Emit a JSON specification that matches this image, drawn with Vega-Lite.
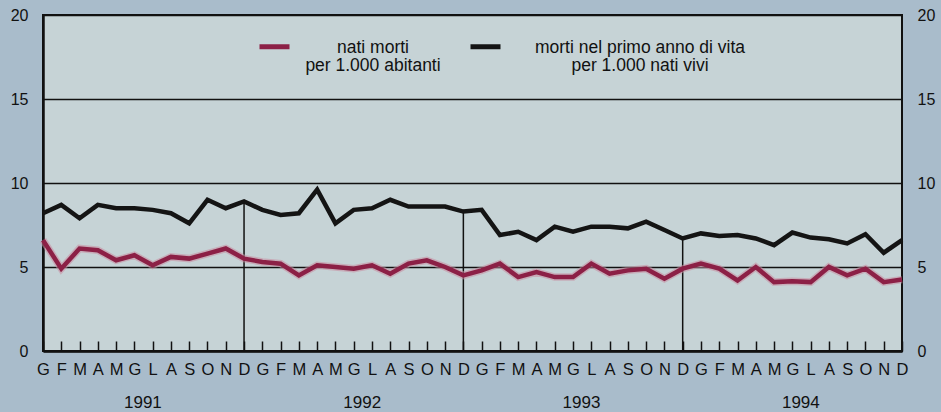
{
  "$schema": "https://vega.github.io/schema/vega-lite/v6.json",
  "width": 859,
  "height": 336,
  "autosize": {"type": "none"},
  "padding": {"left": 43, "top": 15, "right": 39, "bottom": 61},
  "background": "#a9bccb",
  "config": {
    "font": "Liberation Sans",
    "view": {"fill": "#c6d3d6", "stroke": "#111111", "strokeWidth": 2}
  },
  "data": {
    "values": [
      {"periodo": "1991-01", "anno": 1991, "morti_primo_anno": 8.2, "nati_morti": 6.6},
      {"periodo": "1991-02", "anno": 1991, "morti_primo_anno": 8.7, "nati_morti": 4.9},
      {"periodo": "1991-03", "anno": 1991, "morti_primo_anno": 7.9, "nati_morti": 6.1},
      {"periodo": "1991-04", "anno": 1991, "morti_primo_anno": 8.7, "nati_morti": 6.0},
      {"periodo": "1991-05", "anno": 1991, "morti_primo_anno": 8.5, "nati_morti": 5.4},
      {"periodo": "1991-06", "anno": 1991, "morti_primo_anno": 8.5, "nati_morti": 5.7},
      {"periodo": "1991-07", "anno": 1991, "morti_primo_anno": 8.4, "nati_morti": 5.1},
      {"periodo": "1991-08", "anno": 1991, "morti_primo_anno": 8.2, "nati_morti": 5.6},
      {"periodo": "1991-09", "anno": 1991, "morti_primo_anno": 7.6, "nati_morti": 5.5},
      {"periodo": "1991-10", "anno": 1991, "morti_primo_anno": 9.0, "nati_morti": 5.8},
      {"periodo": "1991-11", "anno": 1991, "morti_primo_anno": 8.5, "nati_morti": 6.1},
      {"periodo": "1991-12", "anno": 1991, "morti_primo_anno": 8.9, "nati_morti": 5.5},
      {"periodo": "1992-01", "anno": 1992, "morti_primo_anno": 8.4, "nati_morti": 5.3},
      {"periodo": "1992-02", "anno": 1992, "morti_primo_anno": 8.1, "nati_morti": 5.2},
      {"periodo": "1992-03", "anno": 1992, "morti_primo_anno": 8.2, "nati_morti": 4.5},
      {"periodo": "1992-04", "anno": 1992, "morti_primo_anno": 9.6, "nati_morti": 5.1},
      {"periodo": "1992-05", "anno": 1992, "morti_primo_anno": 7.6, "nati_morti": 5.0},
      {"periodo": "1992-06", "anno": 1992, "morti_primo_anno": 8.4, "nati_morti": 4.9},
      {"periodo": "1992-07", "anno": 1992, "morti_primo_anno": 8.5, "nati_morti": 5.1},
      {"periodo": "1992-08", "anno": 1992, "morti_primo_anno": 9.0, "nati_morti": 4.6},
      {"periodo": "1992-09", "anno": 1992, "morti_primo_anno": 8.6, "nati_morti": 5.2},
      {"periodo": "1992-10", "anno": 1992, "morti_primo_anno": 8.6, "nati_morti": 5.4},
      {"periodo": "1992-11", "anno": 1992, "morti_primo_anno": 8.6, "nati_morti": 5.0},
      {"periodo": "1992-12", "anno": 1992, "morti_primo_anno": 8.3, "nati_morti": 4.5},
      {"periodo": "1993-01", "anno": 1993, "morti_primo_anno": 8.4, "nati_morti": 4.8},
      {"periodo": "1993-02", "anno": 1993, "morti_primo_anno": 6.9, "nati_morti": 5.2},
      {"periodo": "1993-03", "anno": 1993, "morti_primo_anno": 7.1, "nati_morti": 4.4},
      {"periodo": "1993-04", "anno": 1993, "morti_primo_anno": 6.6, "nati_morti": 4.7},
      {"periodo": "1993-05", "anno": 1993, "morti_primo_anno": 7.4, "nati_morti": 4.4},
      {"periodo": "1993-06", "anno": 1993, "morti_primo_anno": 7.1, "nati_morti": 4.4},
      {"periodo": "1993-07", "anno": 1993, "morti_primo_anno": 7.4, "nati_morti": 5.2},
      {"periodo": "1993-08", "anno": 1993, "morti_primo_anno": 7.4, "nati_morti": 4.6},
      {"periodo": "1993-09", "anno": 1993, "morti_primo_anno": 7.3, "nati_morti": 4.8},
      {"periodo": "1993-10", "anno": 1993, "morti_primo_anno": 7.7, "nati_morti": 4.9},
      {"periodo": "1993-11", "anno": 1993, "morti_primo_anno": 7.2, "nati_morti": 4.3},
      {"periodo": "1993-12", "anno": 1993, "morti_primo_anno": 6.7, "nati_morti": 4.9},
      {"periodo": "1994-01", "anno": 1994, "morti_primo_anno": 7.0, "nati_morti": 5.2},
      {"periodo": "1994-02", "anno": 1994, "morti_primo_anno": 6.85, "nati_morti": 4.9},
      {"periodo": "1994-03", "anno": 1994, "morti_primo_anno": 6.9, "nati_morti": 4.2},
      {"periodo": "1994-04", "anno": 1994, "morti_primo_anno": 6.7, "nati_morti": 5.0},
      {"periodo": "1994-05", "anno": 1994, "morti_primo_anno": 6.3, "nati_morti": 4.1},
      {"periodo": "1994-06", "anno": 1994, "morti_primo_anno": 7.05, "nati_morti": 4.15},
      {"periodo": "1994-07", "anno": 1994, "morti_primo_anno": 6.75, "nati_morti": 4.1},
      {"periodo": "1994-08", "anno": 1994, "morti_primo_anno": 6.65, "nati_morti": 5.0},
      {"periodo": "1994-09", "anno": 1994, "morti_primo_anno": 6.4, "nati_morti": 4.5},
      {"periodo": "1994-10", "anno": 1994, "morti_primo_anno": 6.95, "nati_morti": 4.9},
      {"periodo": "1994-11", "anno": 1994, "morti_primo_anno": 5.85, "nati_morti": 4.1},
      {"periodo": "1994-12", "anno": 1994, "morti_primo_anno": 6.6, "nati_morti": 4.25}
    ]
  },
  "transform": [
    {"fold": ["nati_morti", "morti_primo_anno"], "as": ["serie", "valore"]}
  ],
  "layer": [
    {
      "transform": [
        {"filter": "datum.serie == 'morti_primo_anno' && substring(datum.periodo, 5, 7) == '12' && datum.anno < 1994"}
      ],
      "mark": {"type": "rule", "color": "#111111", "strokeWidth": 1.5},
      "encoding": {
        "x": {
          "field": "periodo",
          "type": "ordinal",
          "scale": {"type": "point", "padding": 0},
          "axis": {
            "orient": "bottom",
            "title": null,
            "grid": false,
            "domain": false,
            "ticks": false,
            "labelAngle": 0,
            "labelOverlap": false,
            "labelExpr": "substring(datum.value, 5, 7) == '06' ? substring(datum.value, 0, 4) : ''",
            "labelOffset": 8,
            "labelPadding": 51,
            "labelFontSize": 17,
            "labelColor": "#111111",
            "labelBaseline": "middle"
          }
        },
        "y": {
          "field": "valore",
          "type": "quantitative",
          "scale": {"domain": [0, 20]},
          "axis": {
            "orient": "right",
            "title": null,
            "values": [0, 5, 10, 15, 20],
            "grid": false,
            "ticks": false,
            "domain": false,
            "labelPadding": 15,
            "labelFontSize": 16,
            "labelColor": "#111111"
          }
        },
        "y2": {"datum": 0}
      }
    },
    {
      "transform": [{"filter": "datum.serie == 'nati_morti'"}],
      "mark": {"type": "line", "strokeWidth": 7.5, "strokeJoin": "miter", "color": "#c98da0", "opacity": 0.55},
      "encoding": {
        "x": {"field": "periodo", "type": "ordinal", "scale": {"type": "point", "padding": 0}, "axis": null},
        "y": {"field": "valore", "type": "quantitative", "scale": {"domain": [0, 20]}, "axis": null}
      }
    },
    {
      "mark": {"type": "line", "strokeWidth": 4.5, "strokeJoin": "miter"},
      "encoding": {
        "x": {
          "field": "periodo",
          "type": "ordinal",
          "scale": {"type": "point", "padding": 0},
          "axis": {
            "orient": "bottom",
            "title": null,
            "grid": false,
            "domainColor": "#111111",
            "domainWidth": 2.5,
            "tickSize": -10,
            "tickColor": "#111111",
            "tickWidth": 1.5,
            "labelAngle": 0,
            "labelOverlap": false,
            "labelExpr": "['G','F','M','A','M','G','L','A','S','O','N','D'][toNumber(substring(datum.value, 5, 7)) - 1]",
            "labelPadding": 28,
            "labelFontSize": 16.5,
            "labelColor": "#111111",
            "labelBaseline": "middle"
          }
        },
        "y": {
          "field": "valore",
          "type": "quantitative",
          "scale": {"domain": [0, 20]},
          "axis": {
            "orient": "left",
            "title": null,
            "values": [0, 5, 10, 15, 20],
            "grid": true,
            "gridColor": "#111111",
            "gridWidth": 1.5,
            "gridOpacity": 1,
            "ticks": false,
            "domainColor": "#111111",
            "domainWidth": 2.5,
            "labelPadding": 15,
            "labelFontSize": 16,
            "labelColor": "#111111"
          }
        },
        "color": {
          "field": "serie",
          "type": "nominal",
          "scale": {"domain": ["nati_morti", "morti_primo_anno"], "range": ["#8c2046", "#141414"]},
          "legend": {
            "orient": "none",
            "legendX": 214,
            "legendY": 14,
            "direction": "horizontal",
            "title": null,
            "padding": 0,
            "symbolType": "stroke",
            "symbolSize": 900,
            "symbolStrokeWidth": 5,
            "labelFontSize": 17.5,
            "labelColor": "#111111",
            "labelAlign": "center",
            "labelBaseline": "top",
            "labelOffset": 81,
            "labelLimit": 400,
            "columnPadding": 19,
            "labelExpr": "datum.label == 'nati_morti' ? ['nati morti', 'per 1.000 abitanti'] : ['morti nel primo anno di vita', 'per 1.000 nati vivi']",
            "encode": {"labels": {"update": {"dx": {"signal": "datum.index == 1 ? 56 : 0"}, "dy": {"value": -8}, "lineHeight": {"value": 18.5}}}}
          }
        }
      }
    }
  ],
  "resolve": {"axis": {"x": "independent", "y": "independent"}}
}
